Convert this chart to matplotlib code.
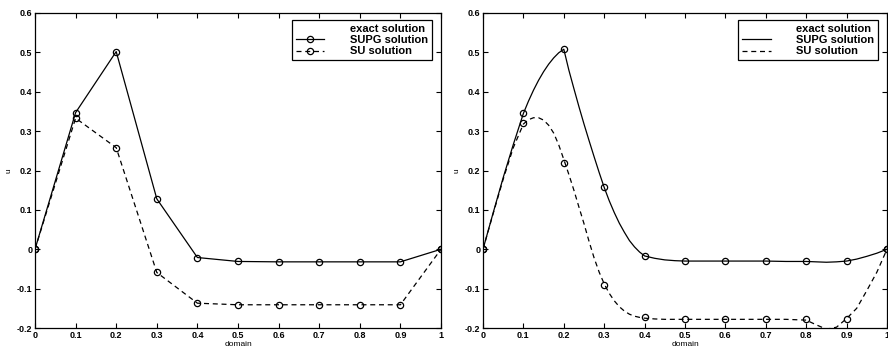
import numpy as np
import matplotlib
matplotlib.use('Agg')
import matplotlib.pyplot as plt

plt.rcParams['font.family'] = ['Liberation Sans', 'DejaVu Sans']
plt.rcParams['font.weight'] = 'bold'

# nodal values (both panels)
x_nodes = [0.0, 0.1, 0.2, 0.3, 0.4, 0.5, 0.6, 0.7, 0.8, 0.9, 1.0]
supg_left = [0.0, 0.347, 0.502, 0.128, -0.021, -0.031, -0.032, -0.032, -0.032, -0.032, 0.0]
su_left = [0.0, 0.333, 0.258, -0.059, -0.137, -0.141, -0.141, -0.141, -0.141, -0.141, 0.0]

supg_right = [0.0, 0.345, 0.508, 0.157, -0.018, -0.030, -0.030, -0.030, -0.030, -0.030, 0.0]
su_right = [0.0, 0.320, 0.218, -0.090, -0.173, -0.178, -0.178, -0.178, -0.178, -0.176, 0.0]

# fine curves of the right panel
x_fine = [0.0, 0.025, 0.05, 0.075, 0.1, 0.1125, 0.125, 0.1375, 0.15, 0.1625, 0.175, 0.1875,
          0.2, 0.2125, 0.225, 0.2375, 0.25, 0.2625, 0.275, 0.2875, 0.3, 0.3125, 0.325, 0.3375,
          0.35, 0.3625, 0.375, 0.3875, 0.4, 0.425, 0.45, 0.475, 0.5, 0.55, 0.6, 0.65,
          0.7, 0.75, 0.8, 0.825, 0.85, 0.875, 0.9, 0.925, 0.95, 0.975, 1.0]
supg_fine = [0.0, 0.092, 0.182, 0.266, 0.345, 0.376, 0.404, 0.429, 0.451, 0.470, 0.486, 0.499,
             0.508, 0.455, 0.408, 0.362, 0.318, 0.276, 0.235, 0.195, 0.157, 0.123, 0.093, 0.066,
             0.043, 0.022, 0.006, -0.007, -0.017, -0.023, -0.027, -0.029, -0.030, -0.030, -0.030, -0.030,
             -0.030, -0.031, -0.031, -0.032, -0.033, -0.032, -0.030, -0.025, -0.018, -0.010, 0.0]
su_fine = [0.0, 0.090, 0.178, 0.258, 0.318, 0.329, 0.334, 0.334, 0.328, 0.315, 0.295, 0.265,
           0.228, 0.190, 0.150, 0.107, 0.065, 0.020, -0.022, -0.058, -0.088, -0.112, -0.131, -0.146,
           -0.157, -0.165, -0.170, -0.173, -0.175, -0.177, -0.178, -0.178, -0.178, -0.178, -0.178, -0.178,
           -0.178, -0.178, -0.180, -0.192, -0.203, -0.198, -0.176, -0.150, -0.105, -0.058, 0.0]

xticks = [0, 0.1, 0.2, 0.3, 0.4, 0.5, 0.6, 0.7, 0.8, 0.9, 1]
xtick_labels = ['0', '0.1', '0.2', '0.3', '0.4', '0.5', '0.6', '0.7', '0.8', '0.9', '1']
yticks = [-0.2, -0.1, 0, 0.1, 0.2, 0.3, 0.4, 0.5, 0.6]
ytick_labels = ['-0.2', '-0.1', '0', '0.1', '0.2', '0.3', '0.4', '0.5', '0.6']

fig = plt.figure(figsize=(8.88, 3.54), dpi=100)
ax1 = fig.add_axes([35 / 888, 26 / 354, 406 / 888, 315 / 354])
ax2 = fig.add_axes([483 / 888, 26 / 354, 404 / 888, 315 / 354])

dash = (0, (4, 3))

# left panel: nodal solutions joined by straight lines
ax1.plot([], [], ls='none', label='exact solution')
ax1.plot(x_nodes, supg_left, color='k', lw=0.9, marker='o', ms=4.5, mfc='none',
         mec='k', mew=0.9, label='SUPG solution')
ax1.plot(x_nodes, su_left, color='k', lw=0.9, ls=dash, marker='o', ms=4.5, mfc='none',
         mec='k', mew=0.9, label='SU solution')

# right panel: smooth curves plus nodal circles
ax2.plot([], [], ls='none', label='exact solution')
ax2.plot(x_fine, supg_fine, color='k', lw=0.9, label='SUPG solution')
ax2.plot(x_fine, su_fine, color='k', lw=0.9, ls=dash, label='SU solution')
ax2.plot(x_nodes, supg_right, ls='none', marker='o', ms=4.5, mfc='none', mec='k', mew=0.9)
ax2.plot(x_nodes, su_right, ls='none', marker='o', ms=4.5, mfc='none', mec='k', mew=0.9)

for ax in (ax1, ax2):
    ax.set_xlim(0, 1)
    ax.set_ylim(-0.2, 0.6)
    ax.set_xticks(xticks)
    ax.set_xticklabels(xtick_labels)
    ax.set_yticks(yticks)
    ax.set_yticklabels(ytick_labels)
    ax.tick_params(direction='in', top=True, right=True, length=3.5, width=0.8,
                   labelsize=6.5, pad=2)
    for s in ax.spines.values():
        s.set_linewidth(0.9)
    ax.set_xlabel('domain', fontsize=6, labelpad=1)
    ax.set_ylabel('u', fontsize=6, labelpad=3)
    leg = ax.legend(loc='upper right', bbox_to_anchor=(0.978, 0.978), borderaxespad=0,
                    fontsize=8, numpoints=1, handlelength=2.6, handletextpad=2.3,
                    labelspacing=0.12, borderpad=0.35, fancybox=False, framealpha=1,
                    edgecolor='k')
    leg.get_frame().set_linewidth(0.9)

fig.savefig('out.png', dpi=100)
